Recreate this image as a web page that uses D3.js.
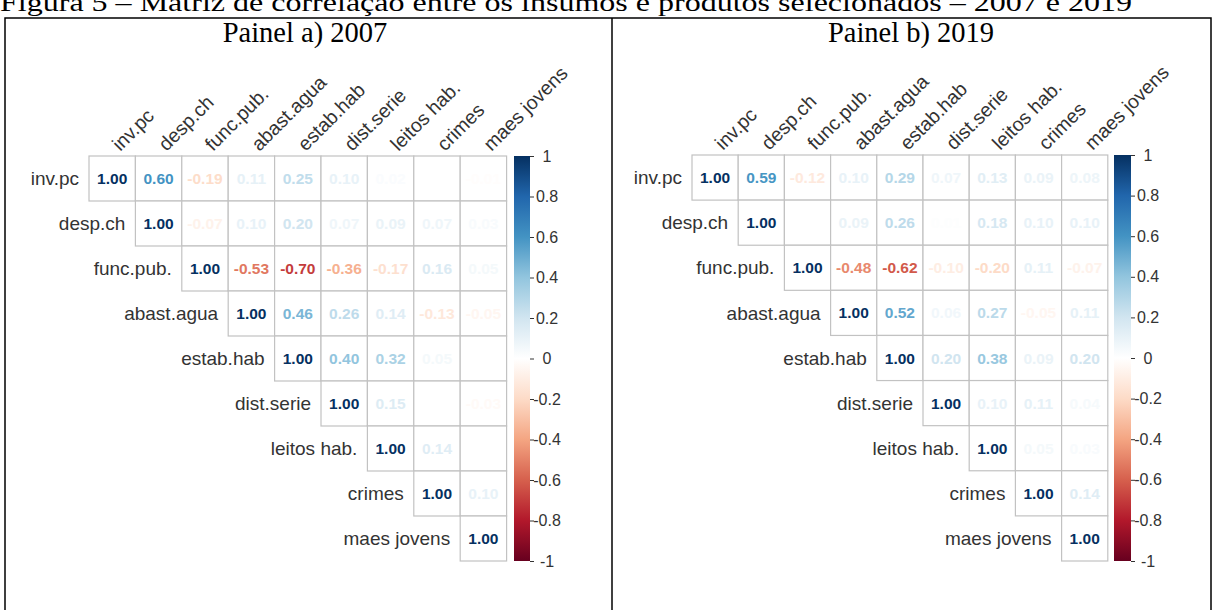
<!DOCTYPE html>
<html>
<head>
<meta charset="utf-8">
<script src="https://cdn.jsdelivr.net/npm/d3@7"></script>
<style>
  html, body { margin: 0; padding: 0; background: #fff; }
  svg { display: block; }
  .serif { font-family: "Liberation Serif", "Times New Roman", serif; }
  .sans { font-family: "Liberation Sans", Arial, sans-serif; }
</style>
</head>
<body>
<svg id="chart" width="1216" height="610"></svg>
<script>
// Variables (order of rows and columns of each matrix)
const variables = ["inv.pc", "desp.ch", "func.pub.", "abast.agua", "estab.hab",
                   "dist.serie", "leitos hab.", "crimes", "maes jovens"];

// Upper triangle of the 2007 correlation matrix: row i holds columns i..8
const corr2007 = [
  [1.00, 0.60, -0.19, 0.11, 0.25, 0.10, 0.02, 0.00, -0.01],
  [1.00, -0.07, 0.10, 0.20, 0.07, 0.09, 0.07, 0.03],
  [1.00, -0.53, -0.70, -0.36, -0.17, 0.16, 0.05],
  [1.00, 0.46, 0.26, 0.14, -0.13, -0.05],
  [1.00, 0.40, 0.32, 0.05, 0.00],
  [1.00, 0.15, 0.00, -0.03],
  [1.00, 0.14, 0.00],
  [1.00, 0.10],
  [1.00]
];

// Upper triangle of the 2019 correlation matrix
const corr2019 = [
  [1.00, 0.59, -0.12, 0.10, 0.29, 0.07, 0.13, 0.09, 0.08],
  [1.00, 0.00, 0.09, 0.26, 0.01, 0.18, 0.10, 0.10],
  [1.00, -0.48, -0.62, -0.10, -0.20, 0.11, -0.07],
  [1.00, 0.52, 0.06, 0.27, -0.05, 0.11],
  [1.00, 0.20, 0.38, 0.09, 0.20],
  [1.00, 0.10, 0.11, 0.04],
  [1.00, 0.05, 0.03],
  [1.00, 0.14],
  [1.00]
];

// Colour legend ticks
const legendTicks = [-1, -0.8, -0.6, -0.4, -0.2, 0, 0.2, 0.4, 0.6, 0.8, 1];

// Diverging red-blue palette
const paletteColors = ["#67001F", "#B2182B", "#D6604D", "#F4A582", "#FDDBC7", "#FFFFFF",
                       "#D1E5F0", "#92C5DE", "#4393C3", "#2166AC", "#053061"];

const captionText = "Figura 5 – Matriz de correlação entre os insumos e produtos selecionados – 2007 e 2019";
const panelTitles = ["Painel a) 2007", "Painel b) 2019"];

const svg = d3.select("#chart");
const color = d3.scaleLinear().domain(legendTicks).range(paletteColors).interpolate(d3.interpolateRgb);
const locale = d3.formatLocale({decimal: ".", thousands: ",", grouping: [3], currency: ["", ""], minus: "-"});
const fmt = locale.format(".2f");
const tickFmt = locale.format("");

// Figure caption (runs off the page top)
svg.append("text")
  .attr("class", "serif")
  .attr("x", 0).attr("y", 11)
  .attr("font-size", 26)
  .attr("textLength", 1132).attr("lengthAdjust", "spacingAndGlyphs")
  .attr("fill", "#000")
  .text(captionText);

// Frame with two panels
const frame = svg.append("g").attr("fill", "none").attr("stroke", "#000").attr("stroke-width", 1.5);
frame.append("path").attr("d", "M5,611 V18 H1211 V611");
frame.append("line").attr("x1", 612).attr("x2", 612).attr("y1", 18).attr("y2", 611);

const panels = [
  {title: panelTitles[0], data: corr2007, titleX: 305, left: 89, top: 156, cw: 46.4, bottom: 561, barX: 514, barW: 16, id: "a"},
  {title: panelTitles[1], data: corr2019, titleX: 911, left: 692, top: 155, cw: 46.2, bottom: 561, barX: 1114, barW: 17, id: "b"}
];

const defs = svg.append("defs");

panels.forEach(p => {
  const g = svg.append("g");

  g.append("text")
    .attr("class", "serif")
    .attr("x", p.titleX).attr("y", 42)
    .attr("text-anchor", "middle")
    .attr("font-size", 28.5)
    .attr("fill", "#000")
    .text(p.title);

  const x = d3.scaleBand().domain(variables).range([p.left, p.left + p.cw * variables.length]);
  const y = d3.scaleBand().domain(variables).range([p.top, p.bottom]);

  const cells = [];
  p.data.forEach((row, i) => {
    row.forEach((v, k) => {
      cells.push({r: variables[i], c: variables[i + k], v: v});
    });
  });

  // grid cells
  g.append("g").selectAll("rect").data(cells).join("rect")
    .attr("x", d => x(d.c)).attr("y", d => y(d.r))
    .attr("width", x.bandwidth()).attr("height", y.bandwidth())
    .attr("fill", "#fff").attr("stroke", "#c2c2c2").attr("stroke-width", 1.2);

  // coefficient labels
  g.append("g").selectAll("text").data(cells).join("text")
    .attr("class", "sans")
    .attr("x", d => x(d.c) + x.bandwidth() / 2)
    .attr("y", d => y(d.r) + y.bandwidth() / 2)
    .attr("dy", "0.36em")
    .attr("text-anchor", "middle")
    .attr("font-weight", "bold")
    .attr("font-size", 15.5)
    .attr("fill", d => color(d.v))
    .text(d => fmt(d.v));

  // row labels, left of the diagonal cell
  g.append("g").selectAll("text").data(variables).join("text")
    .attr("class", "sans")
    .attr("x", d => x(d) - 10)
    .attr("y", d => y(d) + y.bandwidth() / 2)
    .attr("dy", "0.35em")
    .attr("text-anchor", "end")
    .attr("font-size", 19)
    .attr("fill", "#333")
    .text(d => d);

  // column labels, rotated 45 degrees
  g.append("g").selectAll("text").data(variables).join("text")
    .attr("class", "sans")
    .attr("transform", d => `translate(${x(d) + x.bandwidth() / 2 + 8},${p.top - 4}) rotate(-45)`)
    .attr("font-size", 19.5)
    .attr("fill", "#333")
    .text(d => d);

  // colour legend
  const ly = d3.scaleLinear().domain([-1, 1]).range([p.bottom, p.top]);
  const grad = defs.append("linearGradient")
    .attr("id", "grad-" + p.id)
    .attr("x1", 0).attr("y1", 1).attr("x2", 0).attr("y2", 0);
  grad.selectAll("stop").data(legendTicks).join("stop")
    .attr("offset", d => (d + 1) / 2)
    .attr("stop-color", d => color(d));

  g.append("rect")
    .attr("x", p.barX).attr("y", p.top)
    .attr("width", p.barW).attr("height", p.bottom - p.top)
    .attr("fill", `url(#grad-${p.id})`);

  const axis = g.append("g")
    .attr("transform", `translate(${p.barX + p.barW},0)`)
    .call(d3.axisRight(ly).tickValues(legendTicks).tickSize(4).tickFormat(tickFmt));
  axis.attr("font-family", null);
  axis.select(".domain").remove();
  axis.selectAll(".tick line").attr("stroke", "#333");
  axis.selectAll(".tick text")
    .attr("class", "sans")
    .attr("x", 17)
    .attr("text-anchor", "middle")
    .attr("font-size", 16)
    .attr("fill", "#333");
});
</script>
</body>
</html>
